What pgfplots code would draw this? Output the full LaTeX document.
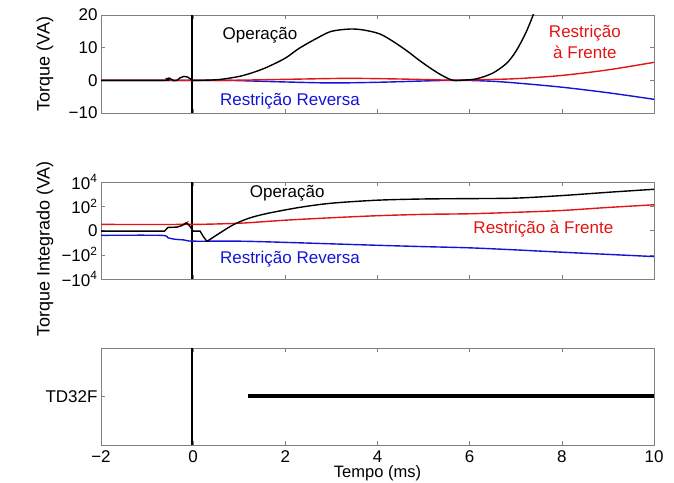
\documentclass[border=0pt]{standalone}
\usepackage{pgfplots}
\pgfplotsset{compat=1.18}
\usepackage{fontspec}
\setmainfont{Liberation Sans}
\definecolor{cred}{RGB}{228,20,20}
\definecolor{cblue}{RGB}{20,20,215}
\tikzset{txt/.style={font=\fontsize{17bp}{21bp}\selectfont, align=center}}
\begin{document}
\begin{tikzpicture}
\path[use as bounding box] (0bp,0bp) rectangle (674bp,483bp);
\pgfplotsset{
  panel/.style={
    scale only axis, width=553bp, height=97bp,
    xmin=-2, xmax=10, xtick={-2,0,...,10},
    axis line style={gray},
    every tick/.style={gray, thin},
    tick align=inside, major tick length=4bp,
    tick label style={font=\fontsize{17bp}{20bp}\selectfont},
    x tick label style={yshift=-2bp},
    every axis x label/.style={at={(axis description cs:0.5,0)}, anchor=north, yshift=-19.5bp, inner sep=1bp, font=\fontsize{16.5bp}{19bp}\selectfont},
    every axis y label/.style={at={(axis description cs:-0.08,0.5)}, anchor=south, rotate=90, font=\fontsize{18bp}{21bp}\selectfont},
    anchor=south west,
  },
}
% ---------- top panel
\begin{axis}[panel, at={(101bp,370bp)}, height=98bp,
  ymin=-10, ymax=20, ytick={-10,0,10,20}, yticklabels={−10,0,10,20},
  xticklabels={}, ylabel={Torque (VA)}]
\addplot[black, line width=1.8bp] coordinates {(-0.03,-10) (-0.03,20)};
\addplot[cblue, line width=1.4bp, smooth] coordinates {
(-2,0) (0.5,0) (1,-0.1) (2,-0.5) (3,-0.8) (4,-0.6) (5,-0.2) (5.6,0) (6,-0.05) (6.5,-0.3) (7,-0.8) (8,-2.1) (9,-3.8) (10,-5.8)};
\addplot[cred, line width=1.4bp, smooth] coordinates {
(-2,0) (0.5,0) (1,0.05) (2,0.3) (3,0.55) (3.5,0.6) (4.5,0.4) (5.6,0.05) (6,0.1) (7,0.5) (8,1.5) (9,3.2) (10,5.5)};
\addplot[black, line width=1.4bp, smooth] coordinates {
(-2,0) (-0.62,0) (-0.57,0.5) (-0.52,0.7) (-0.47,0.3) (-0.42,-0.1) (-0.35,0) (-0.28,0.8) (-0.2,1.2) (-0.12,1.0) (-0.05,0.3) (0,0)
(0.3,0.05) (0.6,0.3) (1.0,1.2) (1.3,2.4) (1.6,4.0) (2.0,6.8) (2.3,9.8) (2.7,13) (3.0,15) (3.4,15.7) (3.7,15.4) (4.05,14.2)
(4.35,11.8) (4.64,9) (4.9,6.2) (5.14,3.8) (5.4,1.5) (5.64,0) (5.9,0.1) (6.16,0.5) (6.5,2.2) (6.8,5.2) (7.0,8.8) (7.2,14) (7.35,19) (7.5,25)};
\node[txt, black] at (axis cs:1.45,13.8) {Operação};
\node[txt, cred] at (axis cs:8.5,11.8) {Restrição\\à Frente};
\node[txt, cblue] at (axis cs:2.1,-6.4) {Restrição Reversa};
\end{axis}
% ---------- middle panel
\begin{axis}[panel, at={(101bp,204bp)},
  ymin=-4, ymax=4, ytick={-4,-2,0,2,4},
  yticklabels={−10\textsuperscript{4},−10\textsuperscript{2},0,10\textsuperscript{2},10\textsuperscript{4}},
  xticklabels={}, ylabel={Torque Integrado (VA)},
  every axis y label/.append style={at={(axis description cs:-0.08,0.31)}}]
\addplot[black, line width=1.8bp] coordinates {(-0.03,-4) (-0.03,4)};
\addplot[cred, line width=1.4bp, smooth] coordinates {
(-2,0.5) (-0.3,0.5) (-0.2,0.55) (-0.14,0.65) (-0.08,0.5) (1,0.6) (2,0.85) (3,1.05) (4,1.22) (5,1.33) (6,1.38) (7,1.5) (8,1.65) (9,1.9) (10,2.12)};
\addplot[cblue, line width=1.4bp, smooth] coordinates {
(-2,-0.4) (-0.7,-0.4) (-0.55,-0.6) (-0.4,-0.72) (-0.2,-0.78) (0,-0.88) (1,-0.88) (2,-0.98) (3,-1.1) (4,-1.22) (5,-1.33) (6,-1.43) (7,-1.6) (8,-1.79) (9,-1.97) (10,-2.15)};
\addplot[black, line width=1.4bp] coordinates {
(-2,-0.05) (-0.62,-0.05) (-0.55,0.25) (-0.35,0.28) (-0.25,0.4) (-0.14,0.62) (-0.08,0.4) (0,-0.05) (0.15,-0.05) (0.22,-0.5) (0.3,-0.9)};
\addplot[black, line width=1.4bp, smooth] coordinates {
(0.3,-0.9) (0.5,-0.4) (0.86,0.45) (1.2,1.0) (1.6,1.4) (2.3,1.9) (3.0,2.25) (4.0,2.5) (5.0,2.6) (6.0,2.63) (7.0,2.67) (8.0,2.88) (9.0,3.15) (10,3.4)};
\node[txt, black] at (axis cs:2.04,3.1) {Operação};
\node[txt, cred] at (axis cs:7.6,0.15) {Restrição à Frente};
\node[txt, cblue] at (axis cs:2.1,-2.4) {Restrição Reversa};
\end{axis}
% ---------- bottom panel
\begin{axis}[panel, at={(101bp,38bp)},
  ymin=0, ymax=1, ytick={0.5}, yticklabels={TD32F},
  xticklabels={−2,0,2,4,6,8,10}, xlabel={Tempo (ms)}]
\addplot[black, line width=1.8bp] coordinates {(-0.03,0) (-0.03,1)};
\addplot[black, line width=4bp] coordinates {(1.2,0.5) (10,0.5)};
\end{axis}
\end{tikzpicture}
\end{document}
